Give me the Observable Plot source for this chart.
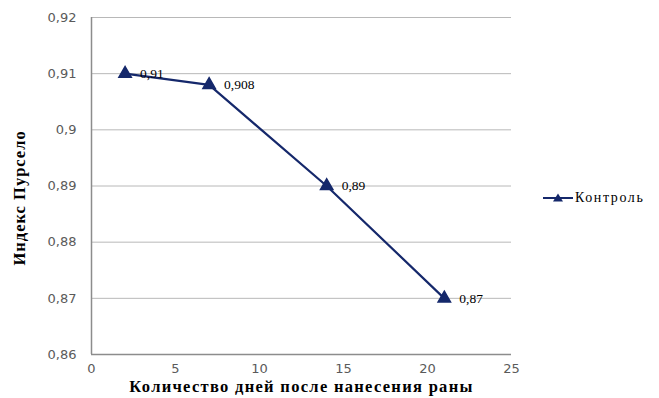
<!DOCTYPE html>
<html>
<head>
<meta charset="utf-8">
<script src="https://cdn.jsdelivr.net/npm/d3@7"></script>
<script src="https://cdn.jsdelivr.net/npm/@observablehq/plot@0.6"></script>
<style>
  html, body { margin: 0; padding: 0; background: #fff; }
  #wrap { position: relative; width: 659px; height: 398px; }
  #legend { position: absolute; left: 543px; top: 190px; display: flex; align-items: center;
    font-family: "Liberation Serif", "DejaVu Serif", serif; font-size: 14px; letter-spacing: 1.6px; color: #000; }
  #legend svg { margin-right: 2px; }
  .serif text { font-family: "Liberation Serif", "DejaVu Serif", serif; }
</style>
</head>
<body>
<div id="wrap"></div>
<script>
const days = [2, 7, 14, 21];
const pourcelot = [0.91, 0.908, 0.89, 0.87];
const labels = ["0,91", "0,908", "0,89", "0,87"];
const xTicks = [0, 5, 10, 15, 20, 25];
const yTicks = [0.86, 0.87, 0.88, 0.89, 0.9, 0.91, 0.92];
const seriesName = "Контроль";
const xTitle = "Количество дней после нанесения раны";
const yTitle = "Индекс Пурсело";

const navy = "#15286b";
const data = days.map((d, i) => ({x: d, y: pourcelot[i], label: labels[i]}));
const fmt = v => String(+v.toFixed(3)).replace(".", ",");

const chart = Plot.plot({
  width: 659,
  height: 398,
  marginLeft: 91,
  marginRight: 148,
  marginTop: 17,
  marginBottom: 44,
  style: {fontFamily: "'DejaVu Sans', Verdana, sans-serif", fontSize: "13px", color: "#5a5a5a", background: "#fff"},
  x: {domain: [0, 25], ticks: xTicks},
  y: {domain: [0.86, 0.92], ticks: yTicks},
  marks: [
    Plot.ruleY(yTicks, {stroke: "#b8b8b8", strokeWidth: 1}),
    Plot.ruleY([0.86], {stroke: "#8c8c8c", strokeWidth: 1.5}),
    Plot.ruleX([0], {stroke: "#8c8c8c", strokeWidth: 1.5}),
    Plot.axisX({ticks: xTicks, tickSize: 0, tickPadding: 9, tickFormat: d => String(d), label: null}),
    Plot.axisY({ticks: yTicks, tickSize: 0, tickPadding: 15, tickFormat: fmt, label: null}),
    Plot.line(data, {x: "x", y: "y", stroke: navy, strokeWidth: 2.2}),
    Plot.dot(data, {x: "x", y: "y", symbol: "triangle", r: 4.6, fill: navy, stroke: navy}),
    Plot.text(data, {x: "x", y: "y", text: "label", dx: 15, textAnchor: "start",
      className: "serif", fontSize: 13.5, fill: "#000", style: "letter-spacing:1.8px"}),
    Plot.text([xTitle], {frameAnchor: "bottom", dy: 37, text: d => d, className: "serif",
      fontSize: 16.5, fontWeight: "bold", fill: "#000"}),
    Plot.text([yTitle], {frameAnchor: "bottom-left", dx: -67, dy: -89, rotate: -90, textAnchor: "start",
      text: d => d, className: "serif", fontSize: 16.5, fontWeight: "bold", fill: "#000"})
  ]
});
chart.querySelectorAll("text").forEach(t => {
  if (t.textContent === xTitle) t.style.letterSpacing = "1.3px";
  if (t.textContent === yTitle) t.style.letterSpacing = "1px";
});
const wrap = document.getElementById("wrap");
wrap.appendChild(chart);

const legend = document.createElement("div");
legend.id = "legend";
legend.innerHTML = `<svg width="30" height="14"><line x1="0" y1="7" x2="30" y2="7" stroke="${navy}" stroke-width="2"/><path d="M15,2.5 L20,10.5 L10,10.5 Z" fill="${navy}"/></svg><span>${seriesName}</span>`;
wrap.appendChild(legend);
</script>
</body>
</html>
